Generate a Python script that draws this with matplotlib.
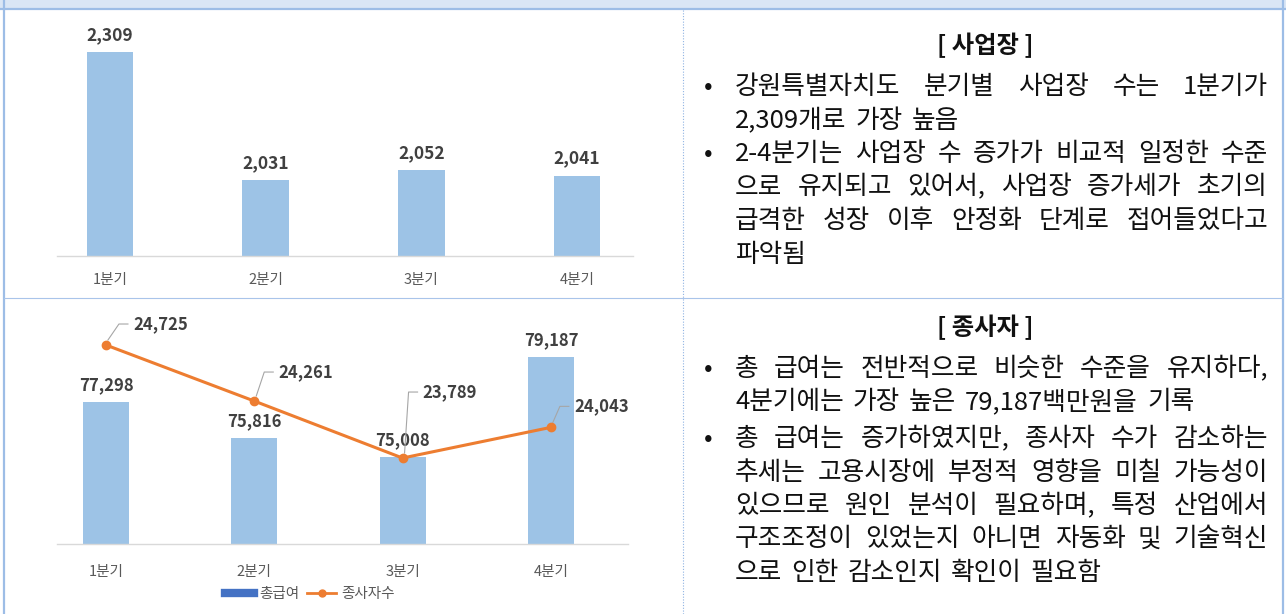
import matplotlib
matplotlib.use('Agg')
import matplotlib.pyplot as plt
from matplotlib.lines import Line2D
from matplotlib.transforms import IdentityTransform

plt.rcParams['font.family'] = ['Noto Sans CJK KR', 'DejaVu Sans']
plt.rcParams['axes.unicode_minus'] = False

# ---- 데이터 ----
quarters = ['1분기', '2분기', '3분기', '4분기']
sites = [2309, 2031, 2052, 2041]            # 사업장 수
salary = [77298, 75816, 75008, 79187]       # 총급여 (백만원)
workers = [24725, 24261, 23789, 24043]      # 종사자수

site_title = '[ 사업장 ]'
site_notes = [
    ['강원특별자치도 분기별 사업장 수는 1분기가',
     '2,309개로 가장 높음'],
    ['2-4분기는 사업장 수 증가가 비교적 일정한 수준',
     '으로 유지되고 있어서, 사업장 증가세가 초기의',
     '급격한 성장 이후 안정화 단계로 접어들었다고',
     '파악됨'],
]
worker_title = '[ 종사자 ]'
worker_notes = [
    ['총 급여는 전반적으로 비슷한 수준을 유지하다,',
     '4분기에는 가장 높은 79,187백만원을 기록'],
    ['총 급여는 증가하였지만, 종사자 수가 감소하는',
     '추세는 고용시장에 부정적 영향을 미칠 가능성이',
     '있으므로 원인 분석이 필요하며, 특정 산업에서',
     '구조조정이 있었는지 아니면 자동화 및 기술혁신',
     '으로 인한 감소인지 확인이 필요함'],
]

BAR = '#9DC3E6'
ORANGE = '#ED7D31'
LABEL = '#404040'
TICK = '#595959'
BORDER = '#9DBDE6'

W, H = 1286, 614
fig = plt.figure(figsize=(W / 100, H / 100), dpi=100)
fig.patch.set_facecolor('white')


def px_box(left, top, right, bottom):
    return [left / W, 1 - bottom / H, (right - left) / W, (bottom - top) / H]


# 배경: 표 테두리와 텍스트용 (픽셀 좌표)
bg = fig.add_axes([0, 0, 1, 1])
bg.set_xlim(0, W)
bg.set_ylim(H, 0)
bg.axis('off')
bg.add_patch(plt.Rectangle((0, 0), W, 9, color='#DAE6F5', lw=0))
bg.plot([0, W], [9, 9], color=BORDER, lw=1.6)
bg.plot([4, 4], [0, H], color=BORDER, lw=1.6)
bg.plot([1283, 1283], [0, H], color=BORDER, lw=1.6)
bg.plot([4, 1283], [298, 298], color='#A9C4EA', lw=0.8)
bg.plot([683, 683], [10, H], color='#8FB3E3', lw=0.8, ls=(0, (1, 1.5)))

x = list(range(len(quarters)))


def style_axes(ax, pad):
    for s in ['top', 'left', 'right']:
        ax.spines[s].set_visible(False)
    ax.spines['bottom'].set_color('#D9D9D9')
    ax.spines['bottom'].set_linewidth(1.0)
    ax.set_yticks([])
    ax.set_xticks(x, quarters)
    ax.tick_params(axis='x', length=0, pad=pad, labelsize=10.5, labelcolor=TICK)
    ax.set_facecolor('none')


# ---- 사업장 막대그래프 ----
ax1 = fig.add_axes(px_box(57, 15, 633, 256))
ax1.bar(x, sites, width=0.30, color=BAR, zorder=2)
ax1.set_xlim(-0.34, 3.36)
ax1.set_ylim(1866, 2390)
style_axes(ax1, 12)
for xi, v in zip(x, sites):
    ax1.annotate(f'{v:,}', (xi, v), xytext=(0, 8), textcoords='offset pixels',
                 ha='center', va='bottom', fontsize=12.5, fontweight='bold', color=LABEL)

# ---- 총급여 + 종사자수 ----
ax2 = fig.add_axes(px_box(57, 310, 628, 544))
ax2.bar(x, salary, width=0.31, color=BAR, zorder=2)
ax2.set_xlim(-0.33, 3.52)
ax2.set_ylim(71408, 81142)
style_axes(ax2, 15)
for xi, v in zip(x, salary):
    ax2.annotate(f'{v:,}', (xi, v), xytext=(0, 8), textcoords='offset pixels',
                 ha='center', va='bottom', fontsize=12, fontweight='bold', color=LABEL)

ax3 = ax2.twinx()
ax3.plot(x, workers, color=ORANGE, lw=2.2, marker='o', ms=6, zorder=3)
ax3.set_ylim(23077, 25015)
ax3.axis('off')

# 종사자수 라벨 위치 (점 기준 픽셀 오프셋) 과 지시선
label_offsets = [(27, 21), (24, 29), (20, 66), (23, 21)]
for xi, v, (dx, dy) in zip(x, workers, label_offsets):
    ax3.annotate(f'{v:,}', (xi, v), xytext=(dx, dy), textcoords='offset pixels',
                 ha='left', va='center', fontsize=12, fontweight='bold', color=LABEL)
    px, py = ax3.transData.transform((xi, v))
    lx, ly = px + dx, py + dy
    ax3.add_line(Line2D([px + 2, lx - 14, lx - 5], [py + 5, ly, ly],
                        transform=IdentityTransform(), color='#A6A6A6', lw=0.8))

handles = [Line2D([], [], color='#4472C4', lw=6),
           Line2D([], [], color=ORANGE, lw=2, marker='o', ms=5)]
fig.legend(handles, ['총급여', '종사자수'], loc='center',
           bbox_to_anchor=(310 / W, 1 - 594 / H), ncol=2, frameon=False,
           fontsize=10.5, labelcolor=TICK, handlelength=2.0, handletextpad=0.35,
           columnspacing=0.5)

# ---- 오른쪽 설명 텍스트 (양쪽 정렬) ----
TX0, TX1 = 735, 1268
WORD_GAP = 9
renderer = fig.canvas.get_renderer()
txt = dict(fontsize=18.5, color='#111111', va='center')


def put_line(y, line, justify):
    words = line.split(' ')
    objs = [bg.text(0, y, w, ha='left', **txt) for w in words]
    widths = [o.get_window_extent(renderer).width for o in objs]
    gap = WORD_GAP
    if justify:
        gap = (TX1 - TX0 - sum(widths)) / (len(words) - 1)
    pos = TX0
    for o, w in zip(objs, widths):
        o.set_x(pos)
        pos += w + gap


def put_block(title, title_y, paragraphs, ys):
    bg.text(985, title_y, title, ha='center', va='center', fontsize=17.5,
            fontweight='bold', color='#111111')
    i = 0
    for para in paragraphs:
        for j, line in enumerate(para):
            if j == 0:
                bg.text(704, ys[i], '•', ha='left', **txt)
            put_line(ys[i], line, j < len(para) - 1)
            i += 1


put_block(site_title, 45, site_notes, [87, 120.5, 154, 187.5, 221, 255])
put_block(worker_title, 327, worker_notes, [369, 402, 439, 472.5, 506, 539.5, 573])

fig.savefig('out.png', dpi=100)
